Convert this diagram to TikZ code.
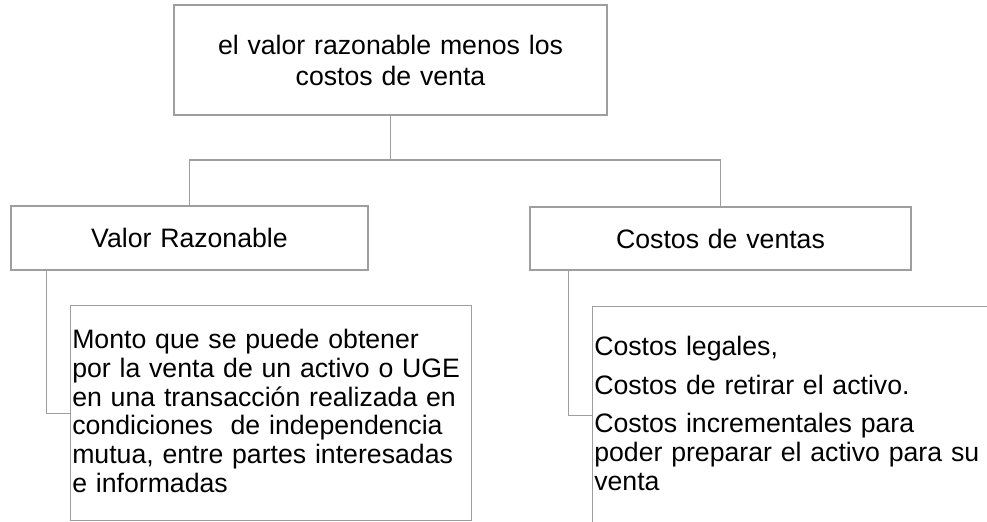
\documentclass[tikz,border=0pt]{standalone}
\usepackage{fontspec}
\setmainfont{Liberation Sans}
\definecolor{linegray}{RGB}{158,158,158}
\newcommand\widesp{\spaceskip=0.33em\relax}
\begin{document}
\begin{tikzpicture}[x=0.75pt,y=-0.75pt,
  box/.style={draw=linegray,line width=1pt,inner sep=0pt,font=\fontsize{20}{23.25}\selectfont\widesp},
  link/.style={draw=linegray,line width=1pt},
  txt/.style={font=\fontsize{20}{21.5}\selectfont\widesp,align=left,inner sep=0pt}]
\useasboundingbox (0,0) rectangle (987,521);
\clip (0,0) rectangle (987,521);
\node[box,minimum width=324.75pt,minimum height=82.5pt,align=center] (top) at (390.5,60) {el valor razonable menos los\\costos de venta};
\node[box,minimum width=267.75pt,minimum height=48pt] (vr) at (189.5,238) {Valor Razonable};
\node[box,minimum width=285.75pt,minimum height=47.25pt] (cv) at (720.5,238.5) {Costos de ventas};
\node[box,minimum width=300.75pt,minimum height=161.25pt,anchor=north west] (vrdet) at (70,305) {};
\node[box,minimum width=300.75pt,minimum height=163.5pt,anchor=north west] (cvdet) at (592,306) {};
\coordinate (fork) at (390.5,160);
\draw[link] (top.south) -- (fork) -| (vr.north);
\draw[link] (fork) -| (cv.north);
\draw[link] ([xshift=27pt]vr.south west) |- (vrdet.west);
\draw[link] ([xshift=29.25pt]cv.south west) |- (cvdet.west);
\node[txt,anchor=base west] (vrtxt) at (72,492) {Monto que se puede obtener\\por la venta de un activo o UGE\\en una transacción realizada en\\condiciones\hspace{0.33em} de independencia\\mutua, entre partes interesadas\\e informadas};
\node[txt,anchor=base west] (cvtxt) at (594,490) {Costos legales,\\[7.5pt]Costos de retirar el activo.\\[7.5pt]Costos incrementales para\\poder preparar el activo para su\\venta};
\end{tikzpicture}
\end{document}
